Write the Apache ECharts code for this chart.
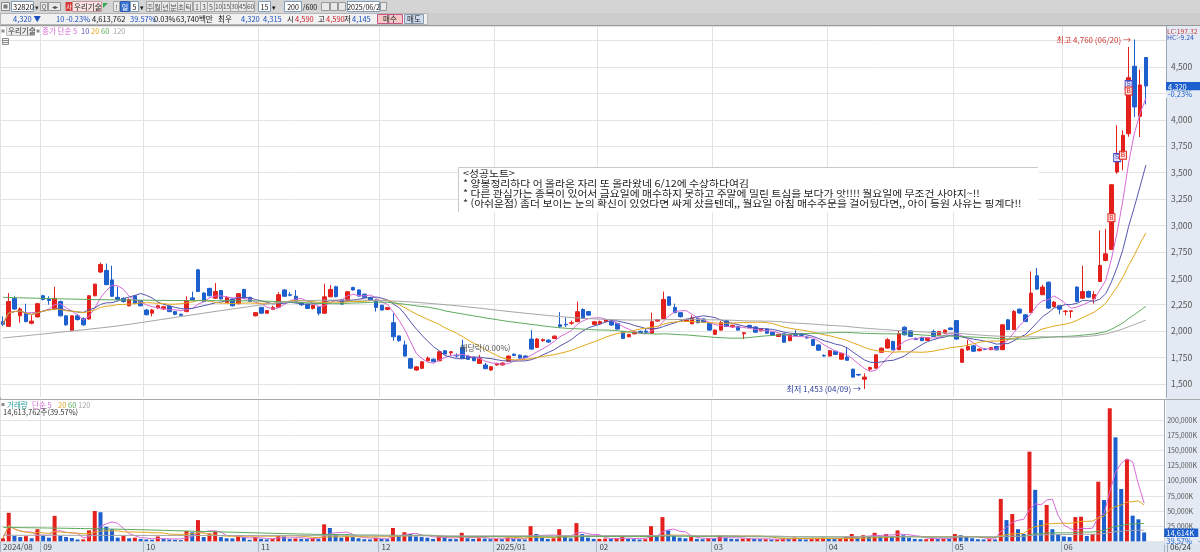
<!DOCTYPE html>
<html lang="ko"><head><meta charset="utf-8"><title>우리기술</title>
<script src="https://cdn.jsdelivr.net/npm/echarts@6/dist/echarts.min.js"></script>
<style>html,body{margin:0;padding:0;background:#fff;overflow:hidden}#c{width:1200px;height:552px}</style>
</head><body><div id="c"></div>
<script>
// ================= DATA =================
const tradingMonths = [
 ['2024','08',[22,23,26,27,28,29,30]],
 ['2024','09',[2,3,4,5,6,9,10,11,12,13,19,20,23,24,25,26,27,30]],
 ['2024','10',[2,4,7,8,10,11,14,15,16,17,18,21,22,23,24,25,28,29,30,31]],
 ['2024','11',[1,4,5,6,7,8,11,12,13,14,15,18,19,20,21,22,25,26,27,28,29]],
 ['2024','12',[2,3,4,5,6,9,10,11,12,13,16,17,18,19,20,23,24,26,27,30]],
 ['2025','01',[2,3,6,7,8,9,10,13,14,15,16,17,20,21,22,23,24,31]],
 ['2025','02',[3,4,5,6,7,10,11,12,13,14,17,18,19,20,21,24,25,26,27,28]],
 ['2025','03',[4,5,6,7,10,11,12,13,14,17,18,19,20,21,24,25,26,27,28,31]],
 ['2025','04',[1,2,3,4,7,8,9,10,11,14,15,16,17,18,21,22,23,24,25,28,29,30]],
 ['2025','05',[2,7,8,9,12,13,14,15,16,19,20,21,22,23,26,27,28,29,30]],
 ['2025','06',[2,4,5,9,10,11,12,13,16,17,18,19,20,23,24]]
];
const open = [
 2090,2045,2310,2145,2170,2075,2135,2335,2305,2210, 2280,2145,2005,2145,2120,2115,2335,2560,2575,2485,
 2320,2310,2240,2335,2290,2200,2170,2220,2210,2235, 2185,2160,2185,2315,2580,2360,2405,2312,2385,2270,
 2305,2260,2395,2320,2145,2225,2170,2205,2227,2390, 2345,2330,2265,2256,2215,2230,2170,2325,2420,2300,
 2288,2414,2390,2350,2320,2295,2245,2206,2080,1955, 1870,1740,1632,1648,1720,1735,1720,1815,1795,1770,
 1845,1765,1755,1695,1680,1632,1680,1680,1716,1782, 1773,1765,1925,1846,1910,1915,1931,2060,2065,2075,
 2090,2205,2185,2064,2070,2090,2090,2073,1994,1947, 1975,1998,2000,1980,2095,2120,2325,2225,2175,2095,
 2070,2118,2115,2075,1970,2010,2100,2040,2045,1975, 2055,2040,2003,2020,1990,1950,1975,1910,1975,1975,
 1945,1920,1870,1770,1765,1810,1735,1755,1640,1590, 1545,1640,1650,1800,1840,1902,1825,2038,2003,1930,
 1940,1913,1997,1965,1980,2030,2100,1705,1823,1861, 1815,1830,1825,1855,1825,2107,2015,2208,2155,2177,
 2524,2345,2464,2234,2240,2185,2188,2417,2312,2376, 2306,2470,2669,2773,3506,3680,3869,4507,4033,4590
];
const high = [
 2140,2360,2330,2225,2260,2150,2265,2345,2330,2420, 2290,2150,2150,2160,2130,2340,2450,2650,2640,2620,
 2420,2320,2310,2340,2295,2210,2210,2250,2240,2240, 2190,2165,2330,2375,2590,2370,2410,2455,2390,2330,
 2310,2360,2400,2325,2180,2230,2200,2240,2370,2395, 2370,2390,2275,2262,2250,2235,2450,2435,2430,2305,
 2380,2420,2395,2355,2325,2300,2250,2230,2170,1960, 1910,1745,1670,1715,1760,1740,1810,1820,1810,1790,
 1920,1770,1760,1775,1700,1670,1700,1705,1770,1790, 1778,1770,2010,1935,1930,1925,1960,2180,2130,2100,
 2280,2215,2190,2095,2100,2115,2095,2078,2000,1975, 2000,2005,2030,2175,2115,2375,2330,2260,2180,2115,
 2150,2125,2120,2080,2015,2095,2105,2060,2050,1990, 2060,2045,2030,2025,1995,1975,1980,1970,2010,1980,
 1950,1925,1875,1780,1820,1815,1795,1850,1645,1595, 1600,1665,1780,1845,1935,1910,2005,2045,2010,1940,
 1945,1942,2015,2002,2015,2035,2105,1835,1918,1870, 1835,1840,1850,1860,2065,2115,2200,2215,2160,2565,
 2597,2440,2470,2285,2245,2200,2200,2425,2619,2385, 2380,2953,2970,3390,3948,3900,4690,4760,4475,4590
];
const low = [
 2050,2040,2200,2080,2085,2065,2130,2290,2250,2200, 2140,2050,2000,2100,2050,2110,2330,2550,2435,2325,
 2290,2270,2235,2260,2235,2150,2140,2210,2200,2180, 2150,2145,2180,2295,2370,2275,2330,2305,2300,2265,
 2235,2255,2310,2278,2140,2165,2165,2200,2220,2325, 2330,2275,2240,2210,2205,2150,2165,2320,2320,2250,
 2280,2385,2325,2315,2290,2185,2195,2200,1910,1900, 1760,1645,1625,1640,1715,1705,1715,1780,1770,1750,
 1738,1728,1715,1690,1640,1625,1675,1675,1710,1765, 1740,1745,1825,1840,1900,1890,1925,2030,2040,2060,
 2085,2115,2145,2055,2060,2085,2050,2015,1925,1940, 1970,1980,1985,1975,2090,2115,2240,2170,2130,2090,
 2065,2075,2080,2005,1965,2005,2040,2030,2005,1925, 2030,1985,2000,1975,1955,1945,1890,1905,1955,1955,
 1930,1860,1815,1760,1760,1775,1730,1720,1560,1575, 1453,1620,1645,1795,1835,1820,1820,1960,1945,1915,
 1905,1908,1945,1960,1975,2010,1920,1700,1815,1805, 1810,1820,1820,1818,1820,2010,2010,2165,2085,2170,
 2390,2340,2210,2225,2160,2150,2125,2275,2305,2315, 2260,2465,2660,2770,3490,3522,3840,4027,3837,4145
];
const close = [
 2065,2280,2210,2210,2090,2095,2260,2300,2290,2310, 2145,2060,2145,2110,2060,2335,2445,2630,2440,2330,
 2300,2280,2300,2265,2240,2155,2200,2240,2230,2185, 2160,2150,2290,2300,2375,2280,2335,2375,2305,2320,
 2240,2355,2312,2282,2175,2170,2195,2225,2345,2330, 2340,2282,2250,2215,2245,2170,2325,2395,2326,2256,
 2373,2390,2332,2320,2295,2225,2200,2222,1947,1910, 1765,1650,1662,1710,1745,1712,1805,1783,1805,1765,
 1742,1733,1720,1742,1645,1663,1695,1698,1764,1770, 1745,1750,1830,1925,1920,1897,1953,2045,2060,2080,
 2184,2120,2152,2089,2090,2110,2058,2020,1931,1969, 1992,1985,1990,2090,2108,2300,2245,2175,2137,2111,
 2124,2080,2085,2010,2010,2080,2045,2055,2010,1985, 2035,1990,2025,1980,1960,1970,1895,1965,1960,1960,
 1935,1865,1820,1765,1815,1780,1790,1725,1565,1585, 1565,1655,1776,1839,1918,1823,1975,1965,1950,1922,
 1910,1937,1950,1997,2010,2015,1925,1830,1855,1810, 1830,1828,1845,1823,2060,2015,2186,2172,2092,2360,
 2398,2417,2218,2275,2208,2190,2192,2281,2375,2322, 2347,2622,2732,3386,3607,3853,4399,4122,4330,4320
];
// volume in thousand shares (K)
const volume = [
 5000,47000,9000,7000,8500,5000,20000,10000,6000,42000, 9000,7000,5500,3000,3200,18000,50000,48000,24000,20000,
 6000,9000,5000,6000,4000,3000,2500,8000,4000,3000, 2500,2000,17000,15000,35000,7000,13000,16000,7000,5000,
 4800,8000,7000,2500,7000,4000,3000,4000,9000,8000, 4000,4500,4000,3500,5000,4000,28000,22000,12000,6000,
 9000,7000,5000,3500,3000,6000,4000,3500,22000,9000, 15000,12000,8000,7000,6000,4000,9000,6000,4000,3500,
 14000,5000,4000,5000,4500,3500,4000,3500,6000,4000, 3500,3000,25000,12000,6000,4000,5000,20000,8000,5000,
 30000,12000,6000,4000,4000,4500,4000,5000,7000,4000, 3500,3000,3500,25000,8000,40000,18000,10000,6000,5000,
 7000,4000,3500,5000,4500,10000,6000,4000,3500,4500, 5000,4000,3500,3500,3000,3000,5000,4500,6000,3500,
 3000,4000,5000,6000,5000,4000,5000,7000,12000,6000, 10000,8000,14000,9000,12000,8000,18000,10000,6000,4000,
 3500,3500,6000,4000,4500,4000,12000,10000,7000,5000, 3500,3000,3500,3000,70000,35000,45000,20000,12000,148000,
 85000,35000,60000,20000,12000,8000,7000,40000,40600,8750, 12000,98400,68200,219600,171700,86300,135400,42300,36300,14614
];
const priceMA60Early  = [[0,2320],[15,2300],[30,2290],[45,2285]];
const priceMA120Early = [[0,1935],[10,1990],[20,2050],[30,2130],[40,2210],[50,2280],[60,2295],[70,2280],[80,2235],[90,2175],[100,2125],[110,2105]];
const volMA60Early  = [[0,23000],[20,20000],[40,15000]];
const volMA120Early = [[0,10000],[40,9500],[80,9000]];
// buy / sell markers [candle index, price, kind]
const trades = [[193,3073,'B'],[194,3642,'S'],[195,3664,'B'],[196,4333,'S'],[196,4273,'B']];
const exDividend = { date: '2024/12/27', text: '배당락(0.00%)' };
const quote = { last:'4,320', change:'10', pct:'-0.23%', vol:'4,613,762', turn:'39.57%', r2:'0.03%', amount:'63,740백만',
  bid:'4,320', ask:'4,315', open:'4,590', high:'4,590', low:'4,145', volK:'14,614K', volLine:'14,613,762주(39.57%)', lc:'LC:197.32', hc:'HC:-9.24' };
const noteLines = [
 '<성공노트>',
 '* 양봉정리하다 어 올라온 자리 또 올라왔네 6/12에 수상하다여김',
 '* 다른 관심가는 종목이 있어서 금요일에 매수하지 못하고 주말에 밀린 트심을 보다가 앗!!!! 월요일에 무조건 사야지~!!',
 '* (아쉬운점) 좀더 보이는 눈의 확신이 있었다면 싸게 샀을텐데,, 월요일 아침 매수주문을 걸어뒀다면,, 아이 등원 사유는 핑계다!!'
];

// ================= BUILD =================
const dates = [];
tradingMonths.forEach(([y,m,ds]) => ds.forEach(d => dates.push(y+'/'+m+'/'+String(d).padStart(2,'0'))));
const monthStart = new Set();
dates.forEach((d,i) => { if (i === 0 || d.slice(0,7) !== dates[i-1].slice(0,7)) monthStart.add(i); });
const axisCats = dates.concat(['','','']);

function sma(arr, n, early) {
  const out = new Array(arr.length).fill(null);
  if (early) early.forEach(([i,v]) => { out[i] = v; });
  for (let i = 0; i < arr.length; i++) {
    if (early && i < n - 1) continue;
    const s = Math.max(0, i - n + 1); let sum = 0;
    for (let k = s; k <= i; k++) sum += arr[k];
    out[i] = Math.round(sum / (i - s + 1) * 10) / 10;
  }
  return out;
}
const RED = '#e4201c', BLUE = '#1c5fcd', PANEL = '#e3eaf3';
const C5 = '#d66ad6', C10 = '#5656ad', C20 = '#e3a71c', C60 = '#5aa95a', C120 = '#a6a6a6';
const FONT = '"Noto Sans CJK KR","Noto Sans",sans-serif';
const fmt = v => v.toLocaleString('en-US');

const ohlc = dates.map((d,i) => [open[i], close[i], low[i], high[i]]);
const volData = volume.map((v,i) => ({ value: v, itemStyle: { color: (i === 0 || v >= volume[i-1]) ? RED : BLUE } }));
const hiIdx = high.indexOf(Math.max(...high));
const loIdx = low.indexOf(Math.min(...low));
const mmdd = d => d.slice(5,7) + '/' + d.slice(8,10);
const exIdx = dates.indexOf(exDividend.date);

function maLine(data, color, xi, yi, smooth) {
  return { type:'line', data, xAxisIndex:xi, yAxisIndex:yi, showSymbol:false, symbol:'none', connectNulls:true,
    smooth: smooth ? 0.3 : false, silent:true, lineStyle:{ width:1, color }, itemStyle:{ color }, z:3 };
}

// ---------- chrome (toolbar / panels) ----------
const G = [];
function rect(x,y,w,h,fill,stroke,z) { G.push({ type:'rect', shape:{x,y,width:w,height:h}, style:{ fill: fill || 'none', stroke: stroke || null, lineWidth: stroke ? 1 : 0 }, z: z === undefined ? -5 : z, silent:true }); }
function line(x1,y1,x2,y2,color,z) { G.push({ type:'line', shape:{x1,y1,x2,y2}, style:{ stroke:color, lineWidth:1 }, z: z === undefined ? -4 : z, silent:true }); }
function text(x,y,str,color,size,align,sx) { G.push({ type:'text', x, y, scaleX: sx || 1, originX: 0, style:{ text:str, fill:color, font:(size||7.5)+'px '+FONT,
  textAlign: align||'left', align: align||'left', textVerticalAlign:'middle', verticalAlign:'middle' }, z:60, silent:true }); }

rect(0,0,1200,13,'#d4d4d4');
rect(0,13,1200,13,'#cdcdcd');
line(0,25.5,1200,25.5,'#9a9a9a');
// row 1
rect(1.5,2.5,8,8,'#f2f2f2','#8a8a8a',-3); rect(3.5,4.5,4,4,'#7a7a7a',null,-2);
rect(11.5,1.5,22,10,'#ffffff','#7f9db9',-3); text(13,7,'32820','#111',7.5);
text(34.5,7,'▾','#333',7);
rect(40.5,2.5,7,8,'#e8e8e8','#999',-3); text(44,7,'Q','#555',6.5,'center');
rect(48.5,2.5,12,8,'#e8e8e8','#999',-3); text(54.5,7,'◂▸','#555',6,'center');
rect(65.5,2,7,9,'#d53a3a',null,-3); text(69,7,'사','#fff',6,'center');
rect(72.5,1.5,29,10,'#fbe4e4','#c99',-3); text(74,7,'우리기술','#222',7.5);
G.push({ type:'polygon', shape:{ points:[[103,3],[108,3],[103,8]] }, style:{ fill:'#2fa84f' }, z:-2, silent:true });
const btns = [[113.5,6,'!','b'],[120.5,9,'일','s'],[130.5,8,'5','w'],[139,6,'▾','n'],
 [146.5,7,'주','b'],[153.5,8,'월','b'],[161.5,8,'년','b'],[169.5,8,'분','b'],[177.5,7,'초','b'],[184.5,8,'틱','b'],
 [193.5,7,'1','b'],[200.5,7,'3','b'],[207.5,7,'5','b'],[214.5,8,'10','b'],[222.5,8,'15','b'],[230.5,8,'30','b'],[238.5,8,'45','b'],[246.5,8,'60','b'],
 [258.5,12,'15','w'],[271,6,'▾','n'],[284.5,17,'200','w'],[302,16,'/600','n'],[347.5,32,'2025/06/2','w']];
btns.forEach(([x,w,l,k]) => {
  if (k === 'b') rect(x,1.5,w,10,'#e9e9e9','#a3a3a3',-3);
  if (k === 's') rect(x,1.5,w,10,'#3d78d8','#2a5aa8',-3);
  if (k === 'w') rect(x,1.5,w,10,'#ffffff','#7f9db9',-3);
  text(x + w/2, 7, l, k === 's' ? '#fff' : (k === 'b' ? '#555' : '#111'), l.length > 1 && k === 'b' ? 6.5 : 7, 'center');
});
rect(321.5,2.5,8,8,'#e8e8e8','#999',-3); rect(330.5,2.5,7,8,'#e8e8e8','#999',-3); rect(338.5,2.5,7,8,'#e8e8e8','#999',-3);
rect(380.5,2.5,6,8,'#e8e8e8','#999',-3);
// row 2
rect(0.5,13.5,427,11,'#f1f1f1','#b7b7b7',-3);
text(13,19.5,quote.last + ' ▼','#1d4fbf',7.5);
text(56,19.5,quote.change,'#1d4fbf',7.5);
text(66,19.5,quote.pct,'#1d4fbf',7.5);
text(92,19.5,quote.vol,'#111',7.5);
text(130,19.5,quote.turn,'#1d4fbf',7.5);
text(154,19.5,quote.r2,'#111',7.5);
text(176,19.5,quote.amount,'#111',7.5);
text(218,19.5,'최우','#111',7.5);
text(241,19.5,quote.bid,'#1d4fbf',7.5);
text(263,19.5,quote.ask,'#1d4fbf',7.5);
text(287,19.5,'시','#111',7.5); text(295,19.5,quote.open,'#d0202a',7.5);
text(318,19.5,'고','#111',7.5); text(326,19.5,quote.high,'#d0202a',7.5);
text(344,19.5,'저','#111',7.5); text(352,19.5,quote.low,'#1d4fbf',7.5);
rect(377.5,14.5,25,9,'#f6c9c9','#c58',-2); text(390,19.5,'매수','#222',7.5,'center');
rect(404.5,14.5,19,9,'#cfdcef','#89a',-2); text(414,19.5,'매도','#222',7.5,'center');
// right axis panel, separators, date strip
rect(1166,26,34,515,PANEL,null,-6);
line(0.5,26,0.5,541,'#b0b0b0');
line(0,399.5,1200,399.5,'#a9a9a9',1);
rect(0,541,1200,11,'#dde5ef',null,-6);
line(0,541.5,1200,541.5,'#a9b4c2');
line(1167.5,541,1167.5,552,'#9aa6b5');
// legends
rect(1.5,29.5,3,3,'#8a8a8a',null,-2);
rect(6.5,26.5,28,9,'#ebebeb','#bbbbbb',-2); text(8,31.5,'우리기술','#333',7.5);
rect(36.5,29.5,3,3,'#8a8a8a',null,-2);
text(42,31.5,'종가 단순 5',C5,7.5); text(81,31.5,'10',C10,7.5); text(91,31.5,'20',C20,7.5); text(101,31.5,'60',C60,7.5); text(113,31.5,'120',C120,7.5);
rect(2.5,38.5,6,6,'#f4f4f4','#8a8a8a',1); line(2.5,40.5,8.5,40.5,'#8a8a8a',2); line(2.5,42.5,8.5,42.5,'#8a8a8a',2);
text(1167,31,quote.lc,'#c84040',6.8); text(1167,37.5,quote.hc,'#3050c0',6.8);
rect(1.5,403,3,3,'#8a8a8a',null,-2);
text(7,405,'거래량','#2a9d9d',7.5); text(32,405,'단순 5',C5,7.5); text(58,405,'20',C20,7.5); text(68,405,'60',C60,7.5); text(78,405,'120',C120,7.5);
text(3,412.5,quote.volLine,'#333',7.5);
text(1170,547,mmdd(dates[dates.length-1]),'#333',8);
// note box
rect(458.5,167.5,580,45,'#ffffff',null,1);
line(458.5,167.5,1038,167.5,'#c9c9c9',2); line(458.5,167.5,458.5,212,'#c9c9c9',2);
noteLines.forEach((t,k) => text(463, 173 + k*10, t, '#222', 9.5, 'left', 1.14));

// ================= OPTION =================
const tagLabel = (top, bottom, w) => ({ show:true, position:'end', distance:0, offset:[0,4], formatter:'{a|'+top+'}\n{b|'+bottom+'}',
  rich:{ a:{ backgroundColor:BLUE, color:'#fff', width:w, fontSize:7.5, padding:[1,1,0,2], fontFamily:FONT },
         b:{ backgroundColor:PANEL, color:BLUE, width:w, fontSize:7.5, padding:[0,1,0,2], fontFamily:FONT } } });

const option = {
  animation: false,
  backgroundColor: '#ffffff',
  textStyle: { fontFamily: FONT },
  grid: [
    { left: 0, right: 34, top: 26, height: 371.2 },
    { left: 0, right: 34, top: 400, height: 141.3 }
  ],
  xAxis: [
    { type:'category', gridIndex:0, data: axisCats, boundaryGap:true,
      axisLine:{show:false}, axisTick:{show:false}, axisLabel:{show:false},
      splitLine:{ show:true, interval:(i) => monthStart.has(i), lineStyle:{ color:'#e2e2e2', width:1 } } },
    { type:'category', gridIndex:1, data: axisCats, boundaryGap:true, position:'bottom',
      axisLine:{show:false},
      axisTick:{ show:true, inside:false, length:11, interval:(i) => monthStart.has(i), lineStyle:{ color:'#a9b4c2' } },
      axisLabel:{ show:true, interval:(i) => monthStart.has(i), align:'left', margin:2, fontSize:8, color:'#444', fontFamily:FONT,
        formatter:(v,i) => { if (!v) return ''; const y=v.slice(0,4), m=v.slice(5,7); return (i===0 || m==='01') ? y+'/'+m : m; } },
      splitLine:{ show:true, interval:(i) => monthStart.has(i), lineStyle:{ color:'#e2e2e2', width:1 } } }
  ],
  yAxis: [
    { type:'value', gridIndex:0, position:'right', min:1375, max:4888, interval:125, scale:false,
      axisLine:{ show:true, lineStyle:{ color:'#9aa6b5' } }, axisTick:{show:false},
      axisLabel:{ show:true, margin:5, fontSize:8.5, color:'#555', fontFamily:FONT, formatter:(v) => (v % 250 === 0 && v <= 4500) ? fmt(v) : '' },
      splitLine:{ show:true, lineStyle:{ color:['rgba(0,0,0,0)','#e4e4e4'], width:1 } } },
    { type:'value', gridIndex:1, position:'right', min:0, max:233300, interval:25000,
      axisLine:{ show:true, lineStyle:{ color:'#9aa6b5' } }, axisTick:{show:false},
      axisLabel:{ show:true, margin:3, fontSize:7, color:'#555', fontFamily:FONT, formatter:(v) => (v > 0 && v <= 200000 && v % 25000 === 0) ? fmt(v)+'K' : '' },
      splitLine:{ show:true, lineStyle:{ color:['#e4e4e4','#e4e4e4','#e4e4e4','#e4e4e4','#e4e4e4','#e4e4e4','#e4e4e4','#e4e4e4','#e4e4e4','rgba(0,0,0,0)','rgba(0,0,0,0)'], width:1 } } }
  ],
  series: [
    { type:'candlestick', name:'우리기술', xAxisIndex:0, yAxisIndex:0, data: ohlc, barWidth:4, z:2,
      itemStyle:{ color:RED, color0:BLUE, borderColor:RED, borderColor0:BLUE, borderWidth:1 },
      markPoint:{ silent:true, animation:false,
        data: [
          { coord:[dates[hiIdx], high[hiIdx]], symbol:'circle', symbolSize:1, itemStyle:{ color:'rgba(0,0,0,0)' },
            label:{ show:true, position:'left', distance:3, fontSize:8, color:'#d0342c', fontFamily:FONT, formatter:'최고 '+fmt(high[hiIdx])+' ('+mmdd(dates[hiIdx])+') →' } },
          { coord:[dates[loIdx], low[loIdx]], symbol:'circle', symbolSize:1, itemStyle:{ color:'rgba(0,0,0,0)' },
            label:{ show:true, position:'left', distance:3, fontSize:8, color:'#2b3d9a', fontFamily:FONT, formatter:'최저 '+fmt(low[loIdx])+' ('+mmdd(dates[loIdx])+') →' } },
          { coord:[dates[exIdx], high[exIdx]], symbol:'circle', symbolSize:1, itemStyle:{ color:'rgba(0,0,0,0)' },
            label:{ show:true, position:'top', distance:10, fontSize:8, color:'#555', fontFamily:FONT, formatter: exDividend.text } }
        ].concat(trades.map(([i,p,k]) => ({ coord:[dates[i], p], symbol:'rect', symbolSize:[7,8],
            itemStyle:{ color: k==='B' ? '#fbe0e0' : '#e2e2fb', borderColor: k==='B' ? RED : '#4a4ac8', borderWidth:1 },
            label:{ show:true, position:'inside', fontSize:6.5, color: k==='B' ? RED : '#3a3ab8', fontFamily:'Liberation Sans', formatter:k } })))
      },
      markLine:{ silent:true, symbol:['none','none'], animation:false, lineStyle:{ color:'rgba(0,0,0,0)', width:1, type:'solid' },
        label: tagLabel(fmt(close[close.length-1]), quote.pct, 31),
        data:[{ yAxis: close[close.length-1] }] } },
    maLine(sma(close,5), C5, 0, 0),
    maLine(sma(close,10), C10, 0, 0),
    maLine(sma(close,20), C20, 0, 0),
    maLine(sma(close,60,priceMA60Early), C60, 0, 0, true),
    maLine(sma(close,120,priceMA120Early), C120, 0, 0, true),
    { type:'bar', name:'거래량', xAxisIndex:1, yAxisIndex:1, data: volData, barWidth:4, silent:true, z:2,
      markLine:{ silent:true, symbol:['none','none'], animation:false, lineStyle:{ color:'rgba(0,0,0,0)', width:1, type:'solid' },
        label: tagLabel(quote.volK, quote.turn, 31),
        data:[{ yAxis: volume[volume.length-1] }] } },
    maLine(sma(volume,5), C5, 1, 1),
    maLine(sma(volume,20), C20, 1, 1),
    maLine(sma(volume,60,volMA60Early), C60, 1, 1, true),
    maLine(sma(volume,120,volMA120Early), C120, 1, 1, true)
  ],
  graphic: { elements: G }
};
const chart = echarts.init(document.getElementById('c'), null, { renderer:'canvas', width:1200, height:552 });
chart.setOption(option);
</script></body></html>
